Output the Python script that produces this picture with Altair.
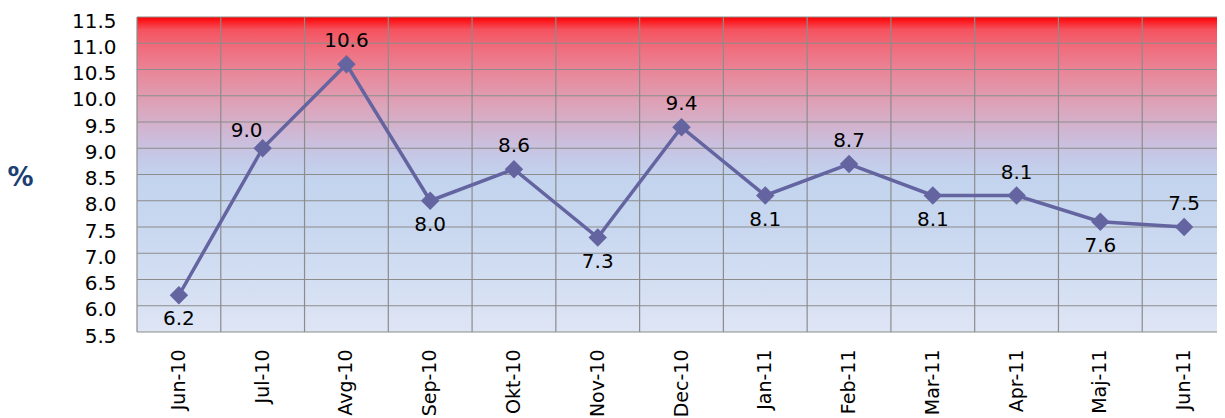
import altair as alt
import pandas as pd

months = ["Jun-10", "Jul-10", "Avg-10", "Sep-10", "Okt-10", "Nov-10", "Dec-10",
          "Jan-11", "Feb-11", "Mar-11", "Apr-11", "Maj-11", "Jun-11"]
values = [6.2, 9.0, 10.6, 8.0, 8.6, 7.3, 9.4, 8.1, 8.7, 8.1, 8.1, 7.6, 7.5]
placement = ["below", "left", "above", "below", "above", "below", "above",
             "below", "above", "below", "above", "below", "above"]
yticks = [5.5, 6.0, 6.5, 7.0, 7.5, 8.0, 8.5, 9.0, 9.5, 10.0, 10.5, 11.0, 11.5]

df = pd.DataFrame({"month": months, "value": values, "place": placement})
df["label"] = df["value"].map(lambda v: f"{v:.1f}")
grid_df = pd.DataFrame({"value": yticks})
bg_df = pd.DataFrame({"a": [1]})

LINE = "#6464A0"
GRID = "#8C8C8C"
VIEW_W = 1080      # visible part of the plot (fits the window)
RANGE_W = 1089     # plot area continues past the window edge, as in the original

xaxis = alt.Axis(title=None, labelAngle=270, labelFontSize=19,
                 labelPadding=17, ticks=False, domain=False,
                 grid=False, labelColor="#000000")
yaxis = alt.Axis(title="%", values=yticks, format=".1f",
                 labelFontSize=20, labelPadding=21, ticks=False,
                 domain=False, grid=False, labelColor="#000000",
                 labelOffset=4,
                 titleAngle=0, titleX=-117, titleY=160,
                 titleAlign="center", titleBaseline="middle",
                 titleFontSize=26, titleFontWeight="bold",
                 titleColor="#1B3F72")
xscale = alt.Scale(type="band", paddingInner=0, paddingOuter=0,
                   range=[0, RANGE_W])
yscale = alt.Scale(domain=[5.5, 11.5], nice=False, zero=False)
xenc = alt.X("month:N", sort=months, scale=xscale, axis=xaxis)
yenc = alt.Y("value:Q", scale=yscale, axis=yaxis)

grad = alt.Gradient(
    gradient="linear", x1=0, x2=0, y1=0, y2=1,
    stops=[
        alt.GradientStop(color="#FF0000", offset=0.0),
        alt.GradientStop(color="#F5525E", offset=0.04),
        alt.GradientStop(color="#F06E7E", offset=0.10),
        alt.GradientStop(color="#E78B9E", offset=0.19),
        alt.GradientStop(color="#DBA6BC", offset=0.29),
        alt.GradientStop(color="#CDBAD8", offset=0.38),
        alt.GradientStop(color="#C4CAE8", offset=0.45),
        alt.GradientStop(color="#C3D4EE", offset=0.52),
        alt.GradientStop(color="#C9D8F0", offset=0.68),
        alt.GradientStop(color="#DEE5F5", offset=1.0),
    ])

bg = alt.Chart(bg_df).mark_rect(color=grad).encode(
    x=alt.value(0), x2=alt.value(RANGE_W),
    y=alt.value(0), y2=alt.value("height"))

hgrid = alt.Chart(grid_df).mark_rule(color=GRID, strokeWidth=1.2).encode(
    y=yenc, x=alt.value(0), x2=alt.value(RANGE_W))

vgrid = alt.Chart(df).mark_rule(color=GRID, strokeWidth=1.2).encode(
    x=alt.X("month:N", sort=months, scale=xscale, bandPosition=0, axis=xaxis))

base = alt.Chart(df)
line = base.mark_line(color=LINE, strokeWidth=3.5).encode(x=xenc, y=yenc)
pts = base.mark_point(shape="diamond", filled=True, size=340, color=LINE,
                      opacity=1).encode(x=xenc, y=yenc)

def lab(place, dx, dy):
    return base.transform_filter(alt.datum.place == place).mark_text(
        fontSize=20, color="#000000", dx=dx, dy=dy).encode(
        x=xenc, y=yenc, text="label:N")

chart = alt.layer(
    bg, hgrid, vgrid, line, pts,
    lab("above", 0, -23), lab("below", 0, 24), lab("left", -16, -17)
).properties(
    width=VIEW_W, height=315,
    autosize=alt.AutoSizeParams(type="none"),
    padding={"left": 129, "top": 9, "right": 0, "bottom": 90},
).configure(font="DejaVu Sans").configure_view(stroke=None)

chart.save("out.html", embed_options={"renderer": "svg", "actions": False})
